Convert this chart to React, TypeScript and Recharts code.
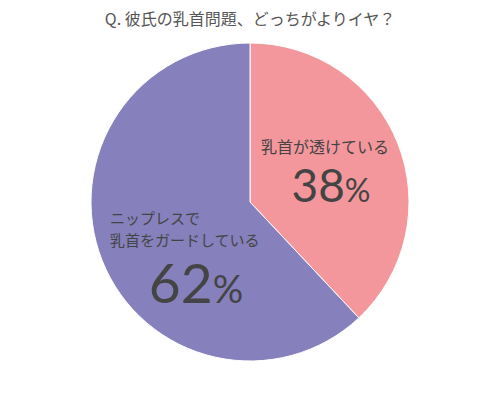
import React from "react";
import { PieChart, Pie, Cell } from "recharts";

const title = "Q. 彼氏の乳首問題、どっちがよりイヤ？";
const names = ["乳首が透けている", "ニップレスで\n乳首をガードしている"];
const values = [38, 62];
const colors = ["#F4979C", "#8680BD"];

const data = names.map((n, i) => ({ name: n, value: values[i] }));

const FONT = "'Noto Sans CJK JP', 'Noto Sans', sans-serif";
const NUM_FONT = "Lato, 'Noto Sans', sans-serif";

const renderLabel = (props: any) => {
  const { cx, cy, index, name, value } = props;
  const lines = String(name).split("\n");
  if (index === 0) {
    return (
      <g>
        <text x={cx + 75} y={cy - 56} textAnchor="middle" dominantBaseline="central" fill="#444" fontSize={16} fontFamily={FONT}>
          {lines[0]}
        </text>
        <text x={cx + 81} y={cy} textAnchor="middle" fill="#444" fontFamily={NUM_FONT}>
          <tspan fontSize={46}>{value}</tspan>
          <tspan fontSize={32}>%</tspan>
        </text>
      </g>
    );
  }
  return (
    <g>
      {lines.map((l, k) => (
        <text key={k} x={cx - 140} y={cy + 15 + k * 22} textAnchor="start" dominantBaseline="central" fill="#444" fontSize={15} fontFamily={FONT}>
          {l}
        </text>
      ))}
      <text x={cx - 54} y={cy + 101} textAnchor="middle" fill="#444" fontFamily={NUM_FONT}>
        <tspan fontSize={55}>{value}</tspan>
        <tspan fontSize={38}>%</tspan>
      </text>
    </g>
  );
};

export default function App() {
  return (
    <div style={{ position: "absolute", left: 0, top: 0, width: 500, height: 399, background: "#fff" }}>
      <div
        style={{
          position: "absolute",
          left: 0,
          top: 7,
          width: 500,
          textAlign: "center",
          fontFamily: FONT,
          fontSize: 16,
          color: "#555",
          lineHeight: "22px",
        }}
      >
        {title}
      </div>
      <PieChart width={500} height={399} margin={{ top: 0, right: 0, bottom: 0, left: 0 }} style={{ position: "absolute", left: 0, top: 0 }}>
        <Pie
          data={data}
          dataKey="value"
          nameKey="name"
          cx={250}
          cy={202}
          outerRadius={159}
          startAngle={90}
          endAngle={-270}
          stroke="#fff"
          strokeWidth={1}
          label={renderLabel}
          labelLine={false}
          isAnimationActive={false}
        >
          {data.map((d, i) => (
            <Cell key={i} fill={colors[i]} />
          ))}
        </Pie>
      </PieChart>
    </div>
  );
}
